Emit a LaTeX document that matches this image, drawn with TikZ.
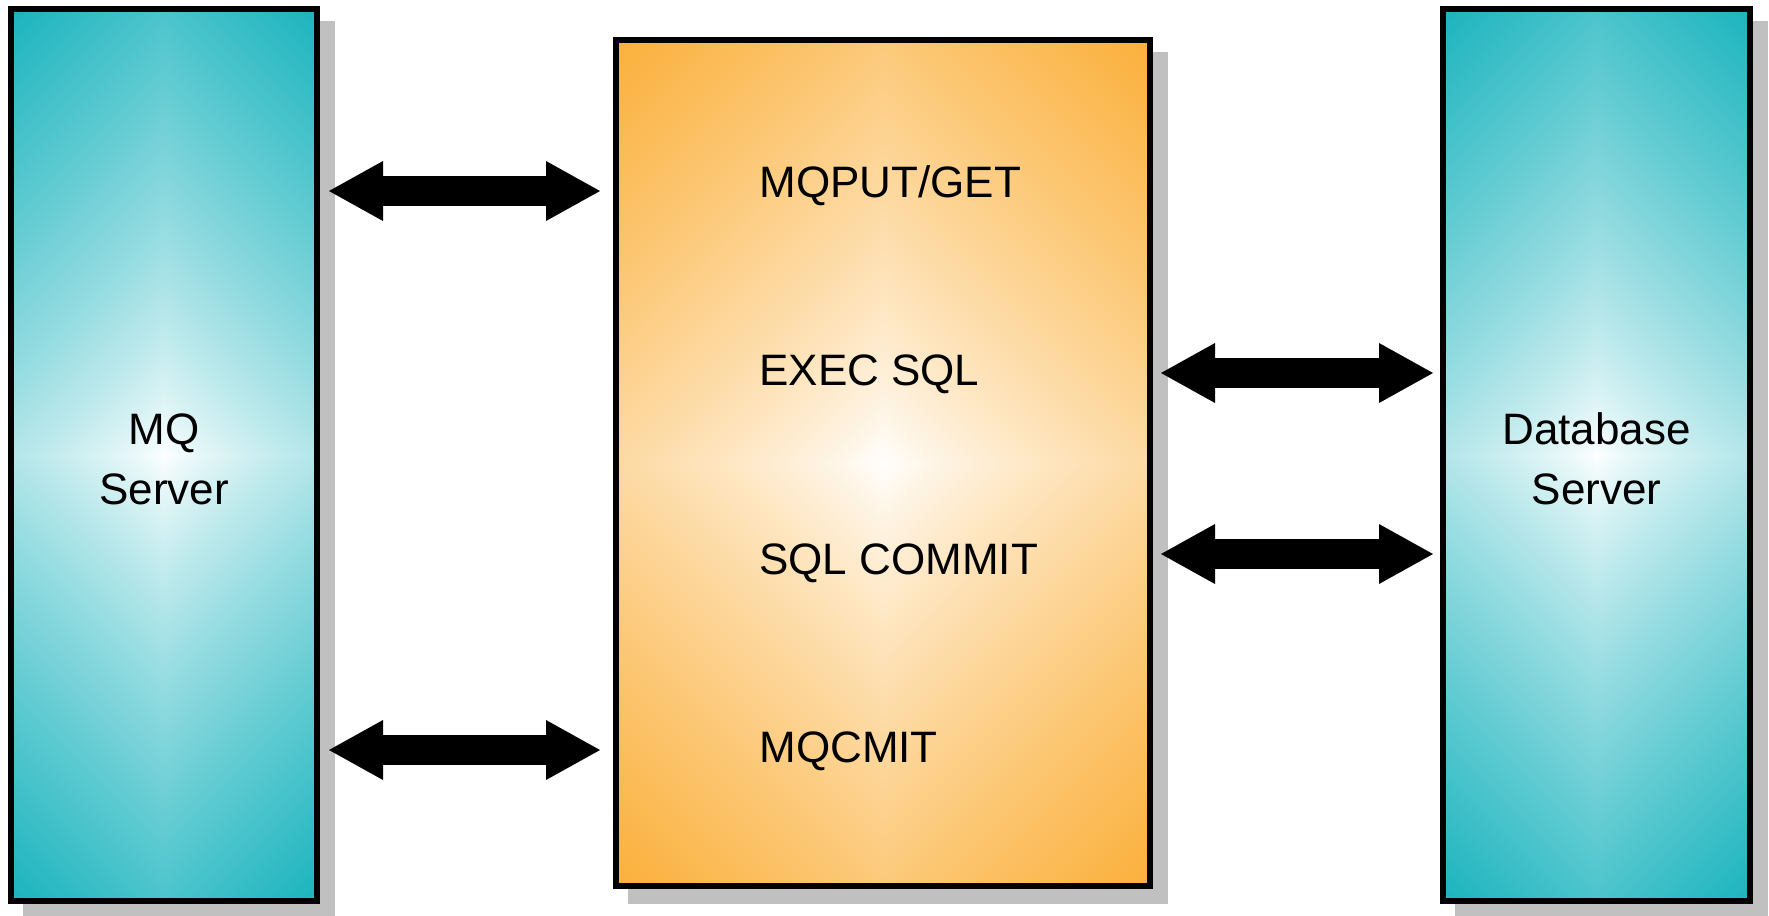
\documentclass[tikz,border=0pt]{standalone}
\usepackage{fontspec}
\setmainfont{Liberation Sans}
\usetikzlibrary{arrows.meta, backgrounds}

\definecolor{shadowgray}{RGB}{192,192,192}

% white centre, colour at the corners (diamond contours)
\pgfdeclarefunctionalshading{tealdiamond}{\pgfpoint{-50bp}{-50bp}}{\pgfpoint{50bp}{50bp}}{}{
    abs exch abs add 25 div 0.8 exp
    dup 0.894 mul 1 exch sub exch
    dup 0.294 mul 1 exch sub exch
    0.255 mul 1 exch sub
}
\pgfdeclarefunctionalshading{orangediamond}{\pgfpoint{-50bp}{-50bp}}{\pgfpoint{50bp}{50bp}}{}{
    abs exch abs add 25 div 0.8 exp
    dup 0.016 mul 1 exch sub exch
    dup 0.310 mul 1 exch sub exch
    0.769 mul 1 exch sub
}

\tikzset{
    server/.style={draw=black, line width=2.6pt, inner sep=0pt},
    glow/.style 2 args={path picture={
        \shade[shading=#1] (path picture bounding box.center) ++(-#2,-#2) rectangle ++({2*#2},{2*#2});}},
    servertext/.style={align=center, inner sep=0pt, font=\fontsize{22pt}{30pt}\selectfont},
    cmdtext/.style={anchor=base west, inner sep=0pt, font=\fontsize{22pt}{30pt}\selectfont},
    fatarrow/.style={line width=15pt,
        {Triangle[length=27pt, width=30pt, line width=0pt]}-{Triangle[length=27pt, width=30pt, line width=0pt]}},
}

\begin{document}
\begin{tikzpicture}[x=0.5pt, y=-0.5pt]

    \useasboundingbox (0,0) rectangle (1769,916);

    % Rows of the arrows
    \coordinate (rowa) at (0,191);
    \coordinate (rowb) at (0,373);
    \coordinate (rowc) at (0,554);
    \coordinate (rowd) at (0,750);

    % Boxes
    \node[server, glow={tealdiamond}{599}, minimum width=153pt, minimum height=446pt] (mq) at (164,455) {};
    \node[server, glow={orangediamond}{690}, minimum width=267pt, minimum height=423pt] (app) at (883,463) {};
    \node[server, glow={tealdiamond}{600}, minimum width=153.5pt, minimum height=446pt] (db) at (1596.5,455) {};

    \node[servertext] (mqname) at ([yshift=-2pt]mq.center) {MQ\\Server};
    \node[servertext] (dbname) at ([yshift=-2pt]db.center) {Database\\Server};

    % Shadows
    \begin{scope}[on background layer]
        \foreach \b in {mq, app, db}
            \fill[shadowgray] ([shift={(15,15)}]\b.south west) rectangle ([shift={(15,15)}]\b.north east);
    \end{scope}

    % Calls
    \node[cmdtext] (put)    at (759,197)   {MQPUT/GET};
    \node[cmdtext] (exec)   at (759,385.5) {EXEC SQL};
    \node[cmdtext] (commit) at (759,574)   {SQL COMMIT};
    \node[cmdtext] (cmit)   at (759,762.5) {MQCMIT};

    % Arrows
    \draw[fatarrow, shorten <=4.7pt, shorten >=6.7pt] (mq.east |- rowa) -- (app.west |- rowa);
    \draw[fatarrow, shorten <=4.7pt, shorten >=6.7pt] (mq.east |- rowd) -- (app.west |- rowd);
    \draw[fatarrow, shorten <=4.2pt, shorten >=3.7pt] (app.east |- rowb) -- (db.west |- rowb);
    \draw[fatarrow, shorten <=4.2pt, shorten >=3.7pt] (app.east |- rowc) -- (db.west |- rowc);

\end{tikzpicture}
\end{document}
